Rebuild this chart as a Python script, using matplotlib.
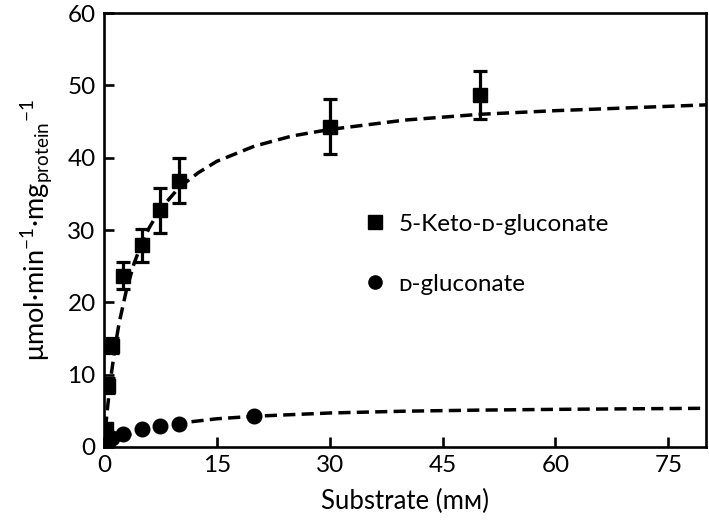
import matplotlib.pyplot as plt
from matplotlib.lines import Line2D

plt.rcParams['font.family'] = ['Lato', 'DejaVu Sans']
plt.rcParams['mathtext.fontset'] = 'custom'
plt.rcParams['mathtext.rm'] = 'Lato'

# 5-Keto-D-gluconate (squares, with error bars)
keto_x = [0.05, 0.1, 0.25, 0.5, 1.0, 2.5, 5, 7.5, 10, 30, 50]
keto_y = [0.3, 1.2, 2.5, 8.5, 14.0, 23.7, 27.9, 32.7, 36.8, 44.3, 48.7]
keto_err = [0.2, 0.4, 0.6, 1.0, 1.0, 1.9, 2.3, 3.1, 3.1, 3.8, 3.3]

# D-gluconate (circles)
gluc_x = [0.5, 1.0, 2.5, 5, 7.5, 10, 20]
gluc_y = [0.7, 1.2, 1.75, 2.45, 2.85, 3.2, 4.3]

# dashed fit curves
keto_fit_x = [0, 0.25, 0.5, 1, 1.5, 2, 3, 4, 5, 6, 7.5, 10, 12.5, 15, 20, 25, 30, 40, 50, 60, 70, 80]
keto_fit_y = [0, 3.1, 5.75, 10.3, 14.0, 17.1, 21.8, 25.4, 28.1, 30.3, 32.9, 35.9, 37.9, 39.5,
              41.6, 43.0, 43.9, 45.2, 46.0, 46.5, 46.9, 47.3]
gluc_fit_x = [0, 0.5, 1, 2, 3, 5, 7.5, 10, 15, 20, 30, 40, 50, 60, 70, 80]
gluc_fit_y = [0, 0.35, 0.67, 1.2, 1.64, 2.3, 2.9, 3.3, 3.9, 4.25, 4.7, 4.95, 5.1, 5.2, 5.28, 5.35]

fig = plt.figure(figsize=(7.09, 5.25), dpi=100)
ax = fig.add_axes([0.1467, 0.1486, 0.849, 0.8266])

dash = dict(color='black', lw=2.5, dashes=(3.5, 1.8))
ax.plot(keto_fit_x, keto_fit_y, **dash)
ax.plot(gluc_fit_x, gluc_fit_y, **dash)

ax.errorbar(keto_x, keto_y, yerr=keto_err, fmt='s', color='black', ms=10.5,
            elinewidth=2.3, capsize=5, capthick=2.3, zorder=3)
ax.plot(gluc_x, gluc_y, 'o', color='black', ms=10.5, zorder=3)

ax.set_xlim(0, 80)
ax.set_ylim(0, 60)
ax.set_xticks([0, 15, 30, 45, 60, 75])
ax.set_yticks([0, 10, 20, 30, 40, 50, 60])

for s in ax.spines.values():
    s.set_linewidth(1.9)
ax.tick_params(direction='in', length=7, width=1.9, labelsize=17.5, pad=6)

ax.set_xlabel('Substrate (mᴍ)', fontsize=18.5, labelpad=9)
ax.set_ylabel(r'μmol·min$^{-1}$·mg$_{\mathrm{protein}}$$^{-1}$', fontsize=19.5, labelpad=10)

handles = [Line2D([], [], marker='s', color='black', ls='none', ms=9.5),
           Line2D([], [], marker='o', color='black', ls='none', ms=9.5)]
ax.legend(handles, ['5-Keto-ᴅ-gluconate', 'ᴅ-gluconate'], frameon=False, fontsize=17.5,
          loc='upper left', bbox_to_anchor=(0.39, 0.588), handletextpad=0.35,
          labelspacing=1.6, handlelength=1.2)

fig.savefig('out.png', dpi=100)
